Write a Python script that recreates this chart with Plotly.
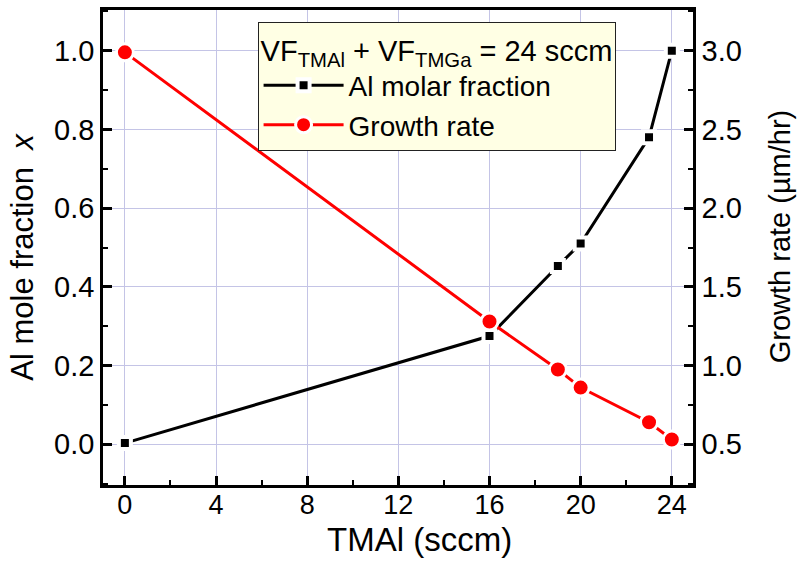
import plotly.graph_objects as go

tmal = [0, 16, 19, 20, 23, 24]
al_fraction = [0.003, 0.275, 0.453, 0.51, 0.78, 1.0]
growth_rate = [2.99, 1.28, 0.975, 0.86, 0.64, 0.53]

x_ticks = [0, 4, 8, 12, 16, 20, 24]
y1_ticks = [0.0, 0.2, 0.4, 0.6, 0.8, 1.0]
y2_ticks = [0.5, 1.0, 1.5, 2.0, 2.5, 3.0]

FONT = "Liberation Sans, Arial, sans-serif"
GRID = "#c4c4e6"

fig = go.Figure()
fig.add_trace(go.Scatter(
    x=tmal, y=al_fraction, name="Al molar fraction", mode="lines+markers",
    line=dict(color="black", width=3),
    marker=dict(symbol="square", size=12, color="black", line=dict(color="white", width=4)),
    yaxis="y"))
fig.add_trace(go.Scatter(
    x=tmal, y=growth_rate, name="Growth rate", mode="lines+markers",
    line=dict(color="#ff0000", width=3),
    marker=dict(symbol="circle", size=17, color="#ff0000", line=dict(color="white", width=3)),
    yaxis="y2"))

axis_common = dict(
    showline=True, linecolor="black", linewidth=2.5, mirror=True,
    ticks="inside", ticklen=9, tickwidth=2.5, tickcolor="black",
    zeroline=False,
)

fig.update_layout(
    width=803, height=563, autosize=False,
    margin=dict(l=103, r=110, t=7, b=78),
    paper_bgcolor="white", plot_bgcolor="white",
    font=dict(family=FONT, size=28, color="black"),
    showlegend=True,
    legend=dict(
        x=0.262, y=0.975, xanchor="left", yanchor="top",
        bgcolor="#ffffe4", bordercolor="#222222", borderwidth=1,
        font=dict(family=FONT, size=28, color="black"),
        title=dict(text="VF<sub>TMAl</sub> + VF<sub>TMGa</sub> = 24 sccm",
                   font=dict(family=FONT, size=29, color="black")),
        itemwidth=80, tracegroupgap=0,
    ),
    xaxis=dict(
        range=[-0.96, 24.93], tickvals=x_ticks, ticktext=[str(v) for v in x_ticks],
        showgrid=True, gridcolor=GRID, gridwidth=1,
        minor=dict(dtick=2, ticks="inside", ticklen=5, tickwidth=2, tickcolor="black", showgrid=False),
        tickfont=dict(size=27), ticklabelstandoff=-6,
        **axis_common),
    yaxis=dict(
        range=[-0.1035, 1.1035], tickvals=y1_ticks, ticktext=[f"{v:.1f}" for v in y1_ticks],
        showgrid=True, gridcolor=GRID, gridwidth=1,
        minor=dict(dtick=0.1, ticks="inside", ticklen=5, tickwidth=2, tickcolor="black", showgrid=False),
        tickfont=dict(size=29),
        **axis_common),
    yaxis2=dict(
        range=[0.241, 3.259], tickvals=y2_ticks, ticktext=[f"{v:.1f}" for v in y2_ticks],
        overlaying="y", side="right", showgrid=False,
        showline=True, linecolor="black", linewidth=2.5,
        ticks="inside", ticklen=9, tickwidth=2.5, tickcolor="black",
        minor=dict(dtick=0.25, ticks="inside", ticklen=5, tickwidth=2, tickcolor="black"),
        tickfont=dict(size=29), zeroline=False),
)

fig.add_annotation(text="TMAl (sccm)", xref="paper", yref="paper",
                   x=0.537, y=-0.115, xanchor="center", yanchor="middle", showarrow=False,
                   font=dict(size=33))
fig.add_annotation(text="Al mole fraction  <i>x</i>", xref="paper", yref="paper",
                   x=-0.137, y=0.481, xanchor="center", yanchor="middle", showarrow=False,
                   textangle=-90, font=dict(size=31))
fig.add_annotation(text="Growth rate (µm/hr)", xref="paper", yref="paper",
                   x=1.147, y=0.523, xanchor="center", yanchor="middle", showarrow=False,
                   textangle=-90, font=dict(size=29))

fig.write_html("out.html")
